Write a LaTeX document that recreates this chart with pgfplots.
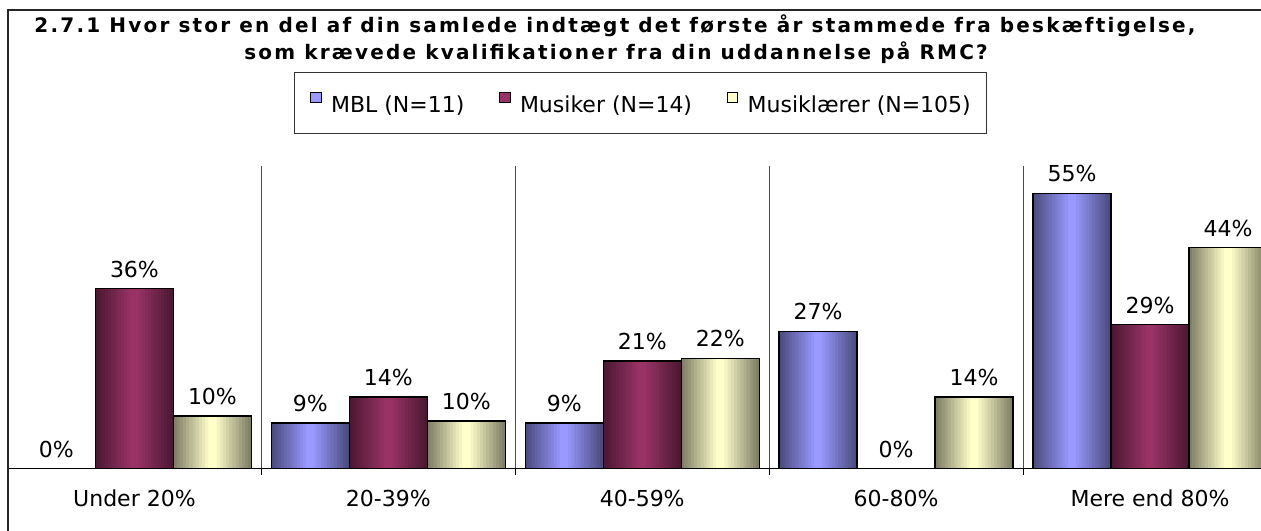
\documentclass[border=0pt]{standalone}
\usepackage{fontspec}
\setmainfont{DejaVu Sans}
\newfontfamily\titlefont[LetterSpace=11]{DejaVu Sans}
\usepackage{pgfplots}
\usepackage{pgfplotstable}
\pgfplotsset{compat=1.18}
\definecolor{mblL}{HTML}{9999FF}
\definecolor{mblD}{HTML}{4C4C80}
\definecolor{musL}{HTML}{993366}
\definecolor{musD}{HTML}{4C1933}
\definecolor{laeL}{HTML}{FFFFCC}
\definecolor{laeD}{HTML}{808066}
\newcommand\lblfont{\fontsize{16.5}{19.5}\selectfont}
% MBL (N=11)
\pgfplotstableread{
x y
0 0
1 9.09
2 9.09
3 27.27
4 54.55
}\mbltab
% Musiker (N=14)
\pgfplotstableread{
x y
0 35.71
1 14.29
2 21.43
3 0
4 28.57
}\mustab
% Musiklaerer (N=105)
\pgfplotstableread{
x y
0 10.48
1 9.52
2 21.90
3 14.29
4 43.81
}\laetab
% shaded bar: bands from dark edge to light centre
\newcommand\shadedbars[4]{% table, dark, light, shift
  \pgfplotsinvokeforeach{0,9,18,27,36,45,55,64,73,82,91,100}{%
    \addplot[forget plot, draw=none, fill=#3!##1!#2, bar shift=#4, bar width={58.5pt*(1-##1/112)}] table[x=x,y=y] {#1};
  }%
}
\begin{document}
\begin{tikzpicture}
\useasboundingbox (0,0) rectangle (945.75pt,398.25pt);
\clip (0,0) rectangle (945.75pt,398.25pt);
\fill[white] (0,0) rectangle (945.75pt,398.25pt);
\node[anchor=base, font=\titlefont\bfseries\fontsize{15}{18}\selectfont] at (461.25pt,373.5pt) {2.7.1 Hvor stor en del af din samlede indtægt det første år stammede fra beskæftigelse,};
\node[anchor=base, font=\titlefont\bfseries\fontsize{15}{18}\selectfont] at (462pt,353.25pt) {som krævede kvalifikationer fra din uddannelse på RMC?};
\begin{axis}[
  at={(5.625pt,46.5pt)}, anchor=south west,
  scale only axis, width=952.125pt, height=227.25pt,
  ymin=0, ymax=60, xmin=-0.5, xmax=4.5,
  ybar, bar width=58.5pt,
  separate axis lines,
  axis x line*=bottom, axis y line=none,
  x axis line style={-, black, line width=0.75pt},
  xtick={0,1,2,3,4},
  xticklabels={Under 20\%,20-39\%,40-59\%,60-80\%,Mere end 80\%},
  major tick length=0pt,
  minor xtick={0.5,1.5,2.5,3.5},
  minor tick length=4.5pt, tick align=outside,
  tick style={black, line width=0.75pt},
  xminorgrids, minor grid style={black!70, line width=0.75pt},
  ytick=\empty,
  xticklabel style={font=\lblfont, anchor=base, yshift=-28.5pt},
  outline/.style={draw=black, line width=1.1pt, fill=none,
    nodes near coords={\pgfmathprintnumber[fixed,precision=0,assume math mode=true]{\pgfplotspointmeta}\%},
    every node near coord/.append style={font=\lblfont, text=black, yshift=4.6pt}},
  legend columns=3,
  legend style={at={(0.4986,1.2079)}, anchor=center,
    draw=black!80, line width=0.6pt, font=\lblfont,
    nodes={inner sep=0pt},
    inner xsep=12pt, inner ysep=14.4pt,
    /tikz/every odd column/.append style={column sep=7pt},
    /tikz/every even column/.append style={column sep=26pt}},
]
\shadedbars{\mbltab}{mblD}{mblL}{-58.5pt}
\addplot[outline, bar shift=-58.5pt,
  legend image code/.code={\draw[fill=mblL, draw=black, line width=0.7pt] (0pt,1.5pt) rectangle (8pt,9.5pt);}]
  table[x=x,y=y] {\mbltab};
\shadedbars{\mustab}{musD}{musL}{0pt}
\addplot[outline, bar shift=0pt,
  legend image code/.code={\draw[fill=musL, draw=black, line width=0.7pt] (0pt,1.5pt) rectangle (8pt,9.5pt);}]
  table[x=x,y=y] {\mustab};
\shadedbars{\laetab}{laeD}{laeL}{58.5pt}
\addplot[outline, bar shift=58.5pt,
  legend image code/.code={\draw[fill=laeL, draw=black, line width=0.7pt] (0pt,1.5pt) rectangle (8pt,9.5pt);}]
  table[x=x,y=y] {\laetab};
\legend{MBL (N=11), Musiker (N=14), Musiklærer (N=105)}
\end{axis}
\draw[black!85, line width=1.2pt] (6pt,-20pt) rectangle (980pt,390.75pt);
\end{tikzpicture}
\end{document}
